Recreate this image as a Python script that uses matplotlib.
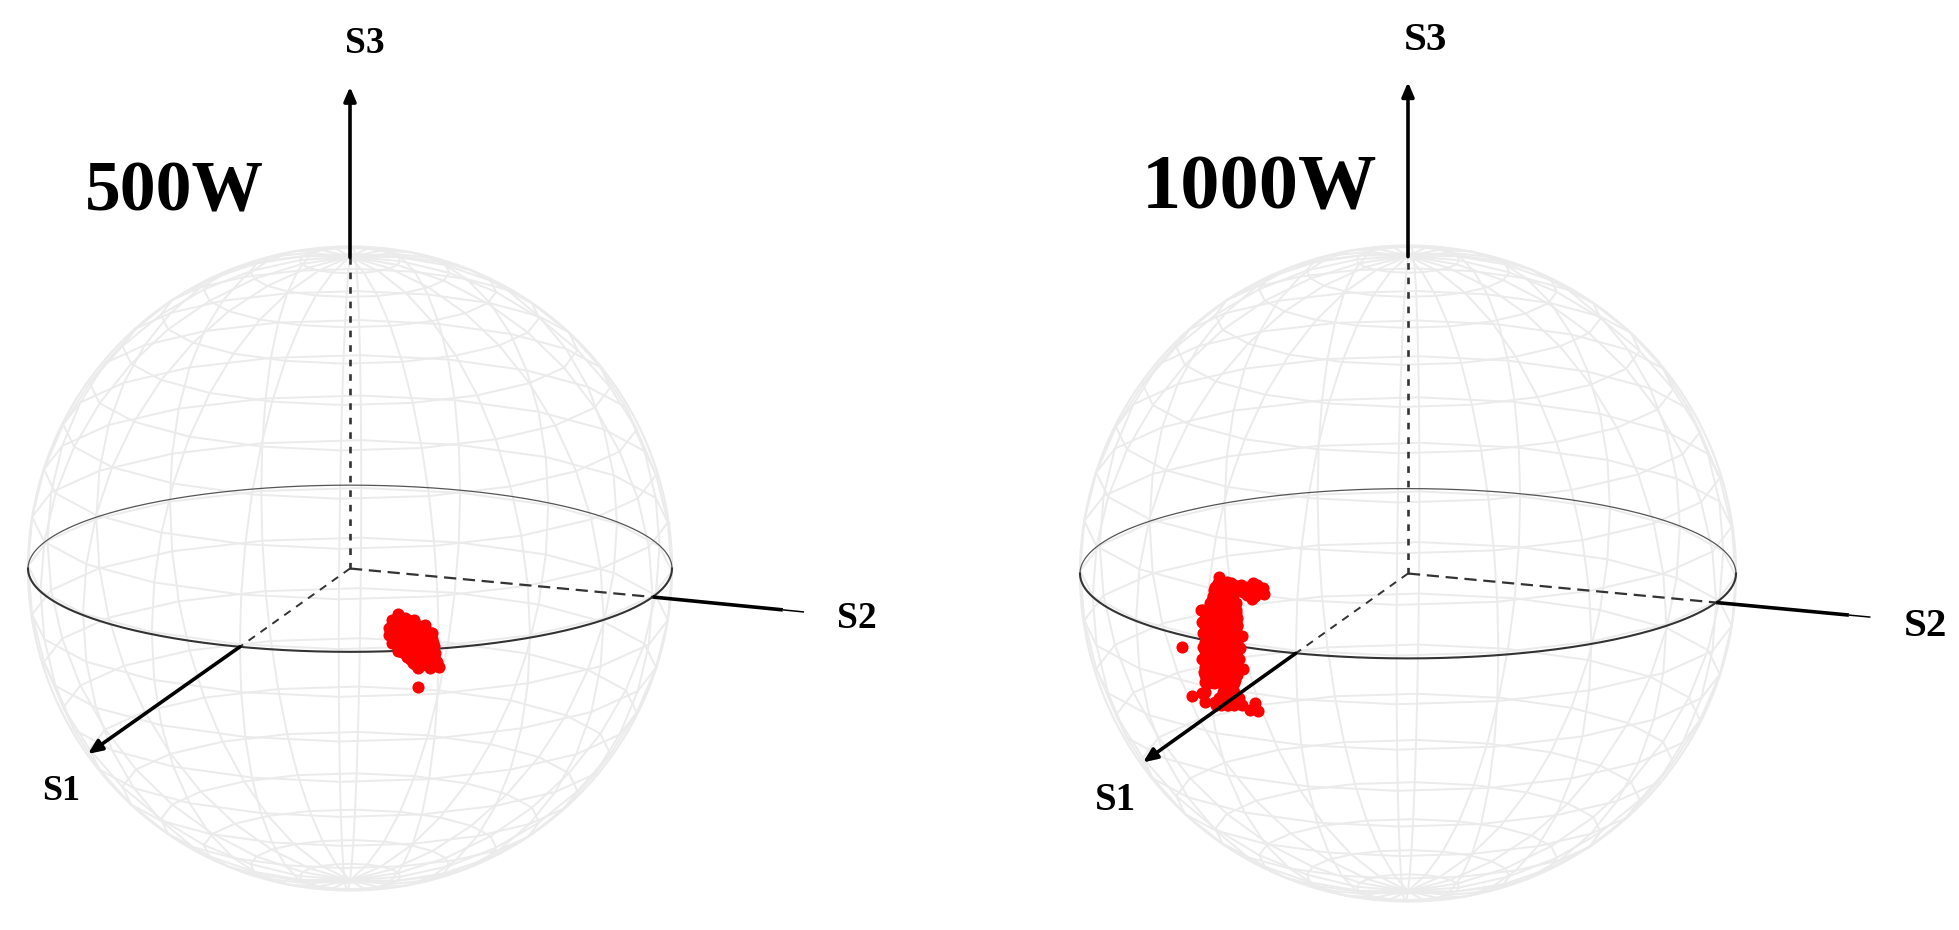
import numpy as np
import matplotlib
matplotlib.use("Agg")
import matplotlib.pyplot as plt

W, H = 1959, 930

# puntos medidos, en % del radio de la esfera (plano de la vista)
u_500 = [15.0, 12.9, 12.2, 17.1, 19.7, 23.3, 25.4, 25.9, 26.4, 26.9, 27.7, 24.8, 21.2, 19.7,
         17.6, 15.0, 12.9, 12.2, 14.5, 17.6, 20.7, 22.8, 18.6, 15.5, 21.7, 24.3, 20.7, 21.0,
         14.0, 16.0, 18.0, 20.0,
         13.5, 15.5, 17.5, 19.5, 21.5, 23.0,
         13.0, 15.0, 17.0, 19.0, 21.0, 23.0, 25.0,
         14.0, 16.0, 18.0, 20.0, 22.0, 24.0, 25.5,
         14.5, 16.5, 18.5, 20.5, 22.5, 24.5, 26.0,
         16.0, 18.0, 20.0, 22.0, 24.0, 26.0,
         18.5, 20.5, 22.5, 24.5, 26.5,
         20.5, 22.5, 24.5, 26.5]
v_500 = [-14.1, -16.0, -18.6, -15.5, -17.0, -17.5, -20.1, -23.2, -26.3, -28.9, -30.7, -31.0, -31.0, -29.4,
         -27.4, -25.5, -23.2, -20.7, -18.1, -19.1, -21.2, -24.3, -23.2, -21.2, -27.4, -27.4, -24.8, -36.7,
         -16.0, -16.0, -16.0, -16.0,
         -18.0, -18.0, -18.0, -18.0, -18.0, -18.0,
         -20.0, -20.0, -20.0, -20.0, -20.0, -20.0, -20.0,
         -22.0, -22.0, -22.0, -22.0, -22.0, -22.0, -22.0,
         -24.0, -24.0, -24.0, -24.0, -24.0, -24.0, -24.0,
         -26.0, -26.0, -26.0, -26.0, -26.0, -26.0,
         -28.0, -28.0, -28.0, -28.0, -28.0,
         -30.0, -30.0, -30.0, -30.0]

u_1000 = [-57.5, -58.8, -55.3, -52.2, -47.3, -44.3, -43.8, -47.7, -50.2,
          -63.2, -62.9, -62.6, -62.6, -62.9, -62.2, -61.9, -59.9, -57.3, -53.3, -52.4, -52.0, -50.7,
          -51.2, -51.4, -50.4, -52.7,
          -65.9, -62.9, -61.9, -58.8, -55.3, -51.7, -46.6, -45.6, -48.2, -53.8, -68.8,
          -58.0, -56.0, -54.0,
          -59.0, -57.0, -55.0, -53.0, -49.0, -46.0,
          -59.5, -57.5, -55.5, -53.5,
          -60.5, -58.5, -56.5, -54.5, -52.5,
          -62.5, -60.5, -58.5, -56.5, -54.5, -52.5,
          -62.0, -60.0, -58.0, -56.0, -54.0, -52.0,
          -62.0, -60.0, -58.0, -56.0, -54.0, -52.0,
          -62.0, -60.0, -58.0, -56.0, -54.0, -52.0,
          -62.0, -60.0, -58.0, -56.0, -54.0, -52.0,
          -62.0, -60.0, -58.0, -56.0, -54.0, -52.0,
          -62.0, -60.0, -58.0, -56.0, -54.0, -52.0,
          -62.0, -60.0, -58.0, -56.0, -54.0, -52.0,
          -62.0, -60.0, -58.0, -56.0, -54.0, -52.0,
          -61.0, -59.0, -57.0, -55.0, -53.0,
          -62.0, -56.5, -54.5, -53.0,
          -57.5, -55.5, -53.5, -51.5,
          -58.5, -57.0, -55.0, -53.0, -50.5,
          -46.0, -48.0, -45.0, -49.0, -46.5, -51.0, -53.0]
v_1000 = [-1.0, -4.0, -2.5, -4.0, -3.0, -4.5, -6.3, -7.9, -5.5,
          -11.1, -14.7, -18.2, -22.3, -26.2, -29.9, -33.0, -8.1, -6.0, -8.1, -12.1, -15.7, -19.1,
          -22.8, -26.2, -29.2, -32.5,
          -37.3, -36.5, -39.1, -39.1, -40.1, -39.6, -39.6, -41.8, -41.6, -38.6, -22.4,
          -3.0, -3.0, -3.0,
          -5.0, -5.0, -5.0, -5.0, -4.0, -3.5,
          -7.0, -7.0, -7.0, -7.0,
          -9.0, -9.0, -9.0, -9.0, -9.0,
          -11.0, -11.0, -11.0, -11.0, -11.0, -11.0,
          -13.5, -13.5, -13.5, -13.5, -13.5, -13.5,
          -16.0, -16.0, -16.0, -16.0, -16.0, -16.0,
          -18.5, -18.5, -18.5, -18.5, -18.5, -18.5,
          -21.0, -21.0, -21.0, -21.0, -21.0, -21.0,
          -23.5, -23.5, -23.5, -23.5, -23.5, -23.5,
          -26.0, -26.0, -26.0, -26.0, -26.0, -26.0,
          -28.5, -28.5, -28.5, -28.5, -28.5, -28.5,
          -31.0, -31.0, -31.0, -31.0, -31.0, -31.0,
          -33.5, -33.5, -33.5, -33.5, -33.5,
          -36.0, -36.0, -36.0, -36.0,
          -38.0, -38.0, -38.0, -38.0,
          -40.0, -40.0, -40.0, -40.0, -40.0,
          -5.5, -5.5, -4.5, -6.5, -7.0, -3.5, -3.5]

angulo_s1 = -110
angulo_s2 = -20
elevacion = 15
elevacion_grid = 14.5
paso_lat = 9
paso_lon = 18

GRIS = '#ebebeb'
ROJO = '#ff0000'

plt.rcParams['font.family'] = ['Liberation Serif', 'DejaVu Serif']

fig = plt.figure(figsize=(W / 100, H / 100), dpi=100, facecolor='white')


def proyectar(x, y, z, elev=elevacion):
    # x e y en el plano S1-S2 girado, z hacia S3
    e = np.radians(elev)
    return x, z * np.cos(e) + y * np.sin(e)


def punto_ecuador(angulo, largo=1.0):
    a = np.radians(angulo)
    return proyectar(largo * np.cos(a), largo * np.sin(a), 0)


def esfera(x0, x1, cx, cy, r, u, v, tip_s1, tip_s2, tip_s3, base_s3):
    ax = fig.add_axes([x0 / W, 0, (x1 - x0) / W, 1])
    ax.set_xlim((x0 - cx) / r, (x1 - cx) / r)
    ax.set_ylim((cy - H) / r, cy / r)
    ax.axis('off')

    # malla, las paralelas van con tramos rectos entre meridianos
    t_par = np.radians(np.arange(angulo_s2, angulo_s2 + 361, paso_lon))
    t_mer = np.radians(np.arange(0, 361, paso_lat))
    for lat in np.arange(-90 + paso_lat, 90, paso_lat):
        la = np.radians(lat)
        px, py = proyectar(np.cos(la) * np.cos(t_par), np.cos(la) * np.sin(t_par),
                           np.sin(la) * np.ones_like(t_par), elevacion_grid)
        ax.plot(px, py, color=GRIS, lw=1.4, zorder=1)
    for lon in np.arange(angulo_s2, angulo_s2 + 180, paso_lon):
        lo = np.radians(lon)
        px, py = proyectar(np.cos(t_mer) * np.cos(lo), np.cos(t_mer) * np.sin(lo), np.sin(t_mer), elevacion_grid)
        ax.plot(px, py, color=GRIS, lw=1.4, zorder=1)
    t = np.linspace(0, 2 * np.pi, 361)
    ax.plot(np.cos(t), np.sin(t), color=GRIS, lw=1.6, zorder=1)

    # ecuador
    mitad = np.linspace(0, np.pi, 181)
    px, py = proyectar(np.cos(mitad), np.sin(mitad), 0)
    ax.plot(px, py, color='#555555', lw=0.9, zorder=2)
    px, py = proyectar(np.cos(mitad), -np.sin(mitad), 0)
    ax.plot(px, py, color='#333333', lw=1.5, zorder=2)

    ax.scatter(np.array(u) / 100, np.array(v) / 100, s=76, color=ROJO, linewidths=0, zorder=3)

    # ejes: tramo interior a trazos
    s1x, s1y = punto_ecuador(angulo_s1)
    s2x, s2y = punto_ecuador(angulo_s2)
    ax.plot([0, s1x], [0, s1y], color='#333333', lw=1.4, dashes=(4, 3.5), zorder=4)
    ax.plot([0, s2x], [0, s2y], color='#333333', lw=1.6, dashes=(5.5, 3), zorder=4)
    ax.plot([0, 0], [0, base_s3], color='#333333', lw=1.9, dashes=(2.5, 3), zorder=4)

    flecha = dict(arrowstyle='-|>,head_length=0.7,head_width=0.3', color='black', lw=2.6,
                  shrinkA=0, shrinkB=0, mutation_scale=12)
    ax.annotate('', xy=tip_s1, xytext=(s1x, s1y), arrowprops=flecha, zorder=5)
    ax.annotate('', xy=(0, tip_s3), xytext=(0, base_s3), arrowprops=flecha, zorder=5)
    # S2 acaba en punta fina
    medio = (s2x + (tip_s2[0] - s2x) * 0.86, s2y + (tip_s2[1] - s2y) * 0.86)
    ax.plot([s2x, medio[0]], [s2y, medio[1]], color='black', lw=2.6, solid_capstyle='butt', zorder=5)
    ax.plot([medio[0], tip_s2[0]], [medio[1], tip_s2[1]], color='black', lw=1.1, solid_capstyle='butt', zorder=5)


esfera(0, 900, 350, 568.5, 322, u_500, v_500,
       tip_s1=(-0.814, -0.576), tip_s2=(1.41, -0.135), tip_s3=1.496, base_s3=0.966)
esfera(960, W, 1408, 573.5, 328, u_1000, v_1000,
       tip_s1=(-0.808, -0.576), tip_s2=(1.41, -0.133), tip_s3=1.498, base_s3=0.966)


def etiqueta(texto, x, y, size):
    # x centro, y linea base, en pixeles
    fig.text(x / W, 1 - y / H, texto, fontsize=size, fontweight='bold', color='black',
             ha='center', va='baseline')


etiqueta('500W', 174, 210, 51.5)
etiqueta('S3', 365, 53, 27)
etiqueta('S2', 857, 628, 27)
etiqueta('S1', 61, 800, 26)

etiqueta('1000W', 1259, 209, 56.5)
etiqueta('S3', 1425, 50, 29.5)
etiqueta('S2', 1926, 636, 29.5)
etiqueta('S1', 1115, 810, 28)

fig.savefig('out.png', dpi=100, facecolor='white')
